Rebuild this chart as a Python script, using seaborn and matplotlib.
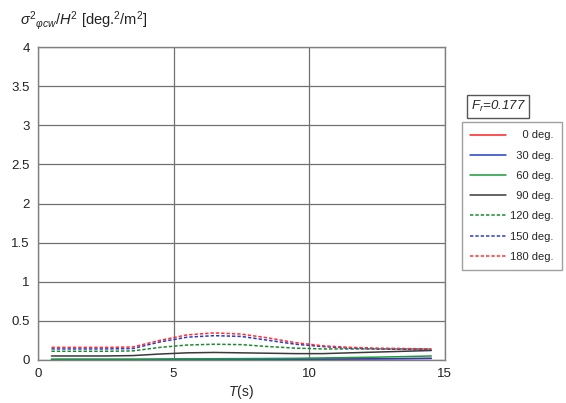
import matplotlib
matplotlib.use("Agg")
import matplotlib.pyplot as plt
import seaborn as sns
import pandas as pd

# wave period T(s)
periods = [0.5, 1.5, 2.5, 3.5, 4.5, 5.5, 6.5, 7.5, 8.5, 9.5, 10.5, 11.5, 12.5, 13.5, 14.5]

# sigma^2 / H^2 for each heading
deg0 = [0.0, 0.0, 0.0, 0.0, 0.0, 0.002, 0.003, 0.004, 0.005, 0.006, 0.008, 0.01, 0.012, 0.015, 0.018]
deg30 = [0.003, 0.003, 0.003, 0.003, 0.004, 0.005, 0.006, 0.007, 0.008, 0.009, 0.01, 0.012, 0.014, 0.017, 0.02]
deg60 = [0.01, 0.01, 0.01, 0.01, 0.012, 0.014, 0.015, 0.016, 0.018, 0.02, 0.025, 0.03, 0.035, 0.042, 0.05]
deg90 = [0.05, 0.05, 0.05, 0.055, 0.075, 0.09, 0.095, 0.09, 0.085, 0.08, 0.08, 0.09, 0.1, 0.11, 0.12]
deg120 = [0.11, 0.11, 0.11, 0.115, 0.16, 0.19, 0.2, 0.195, 0.17, 0.15, 0.14, 0.14, 0.14, 0.14, 0.14]
deg150 = [0.14, 0.14, 0.14, 0.145, 0.23, 0.29, 0.31, 0.3, 0.25, 0.2, 0.17, 0.15, 0.14, 0.135, 0.13]
deg180 = [0.16, 0.16, 0.16, 0.165, 0.25, 0.32, 0.345, 0.33, 0.28, 0.22, 0.18, 0.16, 0.15, 0.145, 0.14]

labels = ["0 deg.", "30 deg.", "60 deg.", "90 deg.", "120 deg.", "150 deg.", "180 deg."]
series = [deg0, deg30, deg60, deg90, deg120, deg150, deg180]
colors = ["#ff2020", "#1f3fc8", "#1a9a3a", "#3a3a3a", "#1a8a30", "#2a3ad0", "#ff3030"]
dashed = [False, False, False, False, True, True, True]

rows = []
for lab, vals in zip(labels, series):
    for t, v in zip(periods, vals):
        rows.append({"T": t, "val": v, "heading": lab})
df = pd.DataFrame(rows)

sns.set_theme(style="white")
plt.rcParams["font.family"] = ["Liberation Sans", "DejaVu Sans"]
plt.rcParams["mathtext.fontset"] = "custom"
plt.rcParams["mathtext.rm"] = "Liberation Sans"
plt.rcParams["mathtext.it"] = "Liberation Sans:italic"

fig = plt.figure(figsize=(5.66, 4.03), dpi=100)
ax = fig.add_axes([0.067, 0.107, 0.719, 0.776])

dash_map = {lab: ((2.2, 1.3) if d else "") for lab, d in zip(labels, dashed)}
sns.lineplot(data=df, x="T", y="val", hue="heading", style="heading",
             palette=dict(zip(labels, colors)), dashes=dash_map,
             linewidth=1.1, ax=ax)

ax.set_xlim(0, 15)
ax.set_ylim(0, 4)
ax.set_xticks([0, 5, 10, 15])
ax.set_yticks([0, 0.5, 1, 1.5, 2, 2.5, 3, 3.5, 4])
ax.set_yticklabels(["0", "0.5", "1", "1.5", "2", "2.5", "3", "3.5", "4"])
ax.grid(True, color="#707070", linewidth=0.9)
ax.set_axisbelow(True)
for s in ax.spines.values():
    s.set_color("#808080")
    s.set_linewidth(1.0)
ax.tick_params(length=0, labelsize=9.5, colors="#222222", pad=6)
ax.set_xlabel("$T$(s)", fontsize=10, labelpad=2)
ax.set_ylabel("")

fig.text(0.035, 0.94, r"$\sigma^2{}_{\varphi cw}/H^2$ [deg.$^2$/m$^2$]", fontsize=10.5, color="#222222")

fig.text(0.832, 0.727, r"$F_r$=0.177", fontsize=9.5, style="italic",
         bbox=dict(boxstyle="square,pad=0.28", facecolor="white", edgecolor="#555555", linewidth=1.0))

# right-align the legend labels with figure spaces
handles, labs = ax.get_legend_handles_labels()
width = max(len(l) for l in labs)
labs = ["\u2007" * (width - len(l)) + l for l in labs]
leg = fig.legend(handles, labs, loc="upper left", bbox_to_anchor=(0.816, 0.697),
                 borderaxespad=0, fontsize=8, frameon=True, fancybox=False,
                 handlelength=3.2, labelspacing=0.92, borderpad=0.75, handletextpad=0.4)
leg.get_frame().set_edgecolor("#888888")
leg.get_frame().set_linewidth(1.0)
ax.get_legend().remove()

fig.savefig("out.png", dpi=100)
